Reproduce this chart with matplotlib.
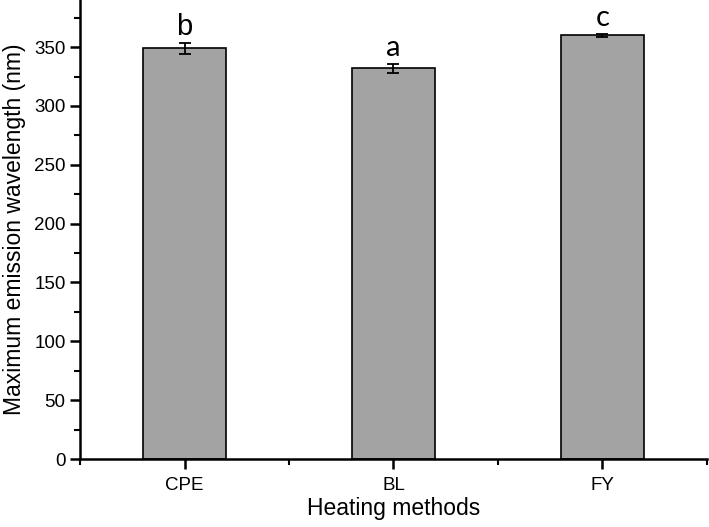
import matplotlib.pyplot as plt
from matplotlib.ticker import MultipleLocator

methods = ['CPE', 'BL', 'FY']
wavelength = [349, 332, 360]
err = [4.5, 4.0, 1.5]
letters = ['b', 'a', 'c']

plt.rcParams['font.family'] = ['Liberation Sans', 'DejaVu Sans']

fig = plt.figure(figsize=(7.09, 5.27), dpi=100)
ax = fig.add_axes([0.113, 0.129, 0.884, 0.871])

x = [1, 2, 3]
ax.bar(x, wavelength, width=0.4, color='#a3a3a3', edgecolor='black', linewidth=1.2,
       yerr=err, capsize=4, error_kw={'elinewidth': 1.3, 'capthick': 1.3})

for xi, v, e, t in zip(x, wavelength, err, letters):
    ax.text(xi, v + e + 2, t, ha='center', va='bottom', fontsize=21,
            family=['Lato', 'DejaVu Sans'] if t != 'b' else ['Liberation Sans'])

ax.set_xlim(0.5, 3.5)
ax.set_ylim(0, 390)
ax.set_xticks(x)
ax.set_xticklabels(methods)
ax.xaxis.set_minor_locator(MultipleLocator(0.5))
ax.yaxis.set_major_locator(MultipleLocator(50))
ax.yaxis.set_minor_locator(MultipleLocator(25))

ax.spines['top'].set_visible(False)
ax.spines['right'].set_visible(False)
ax.spines['left'].set_linewidth(1.8)
ax.spines['bottom'].set_linewidth(1.8)
ax.tick_params(which='major', length=7, width=1.8, labelsize=13.5)
ax.tick_params(axis='x', which='major', pad=6)
ax.tick_params(which='minor', length=4, width=1.5)

ax.set_xlabel('Heating methods', fontsize=16.5, labelpad=2)
ax.set_ylabel('Maximum emission wavelength (nm)', fontsize=16.5, labelpad=6)

plt.savefig('out.png', dpi=100)
